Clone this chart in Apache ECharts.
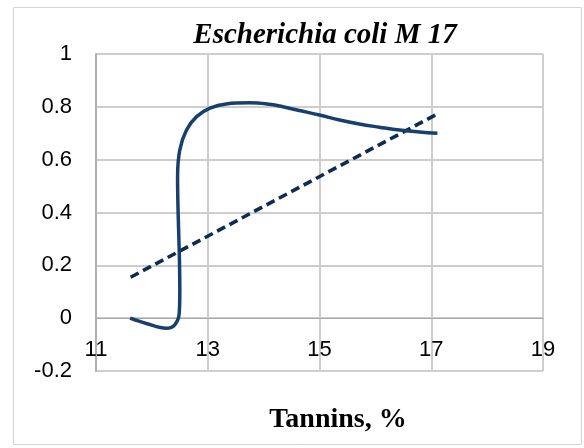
<!DOCTYPE html>
<html>
<head>
<meta charset="utf-8">
<script src="https://cdn.jsdelivr.net/npm/echarts@6/dist/echarts.min.js"></script>
<style>html,body{margin:0;padding:0;background:#fff}#c{width:584px;height:448px}</style>
</head>
<body>
<div id="c"></div>
<script>
const titleText = "Escherichia coli M 17";
const xAxisTitle = "Tannins, %";
const xTicks = [11, 13, 15, 17, 19];
const yTicks = [-0.2, 0, 0.2, 0.4, 0.6, 0.8, 1];
// traced curve (x = tannins %, y = value)
const curveX = [11.61, 11.9, 12.26, 12.41, 12.49, 12.5, 12.49, 12.47, 12.46, 12.5, 12.62, 12.8, 13.04, 13.33, 13.75, 14.1, 14.29, 14.64, 15.0, 15.36, 15.71, 16.07, 16.43, 16.79, 17.11];
const curveY = [0.0, -0.02, -0.038, -0.025, 0.02, 0.107, 0.252, 0.397, 0.536, 0.637, 0.712, 0.763, 0.795, 0.811, 0.815, 0.81, 0.803, 0.786, 0.769, 0.75, 0.735, 0.723, 0.712, 0.705, 0.7];
// linear trend line end points
const trendX = [11.62, 17.08];
const trendY = [0.155, 0.77];

const chart = echarts.init(document.getElementById('c'), null, {renderer: 'canvas'});
const grid = '#cdcdcd';
chart.setOption({
  animation: false,
  backgroundColor: '#fff',
  title: [{
    text: titleText, left: 320, top: 16, textAlign: 'center',
    textStyle: {fontFamily: 'Liberation Serif', fontStyle: 'italic', fontWeight: 'bold', fontSize: 29, color: '#000'}
  }, {
    text: xAxisTitle, left: 333, top: 401, textAlign: 'center',
    textStyle: {fontFamily: 'Liberation Serif', fontWeight: 'bold', fontSize: 28, color: '#000'}
  }],
  graphic: [{
    type: 'rect', shape: {x: 13.5, y: 7.5, width: 568, height: 437},
    style: {fill: 'none', stroke: '#d4d4d4', lineWidth: 1}, z: -1
  }],
  grid: {left: 96, right: 41, top: 54, bottom: 77},
  xAxis: {
    type: 'value', min: xTicks[0], max: xTicks[xTicks.length - 1], interval: 2,
    offset: -53,
    axisLine: {onZero: false, lineStyle: {color: '#a8a8a8', width: 1}},
    axisTick: {show: false},
    axisLabel: {margin: 21, fontFamily: 'Liberation Sans', fontSize: 22, color: '#000'},
    splitLine: {show: true, lineStyle: {color: grid, width: 2}}
  },
  yAxis: {
    type: 'value', min: yTicks[0], max: yTicks[yTicks.length - 1], interval: 0.2,
    axisLine: {show: true, lineStyle: {color: '#b0b0b0', width: 2}},
    axisTick: {show: false},
    axisLabel: {margin: 24, fontFamily: 'Liberation Sans', fontSize: 22, color: '#000',
      formatter: v => String(+v.toFixed(1))},
    splitLine: {show: true, lineStyle: {color: grid, width: 2}}
  },
  series: [{
    type: 'line', showSymbol: false, smooth: 0.4,
    data: curveX.map((x, i) => [x, curveY[i]]),
    lineStyle: {color: '#17406f', width: 3.5}, z: 3
  }, {
    type: 'line', showSymbol: false,
    data: trendX.map((x, i) => [x, trendY[i]]),
    lineStyle: {color: '#0f2b50', width: 3.6, type: [9, 5]}, z: 2
  }]
});
</script>
</body>
</html>
